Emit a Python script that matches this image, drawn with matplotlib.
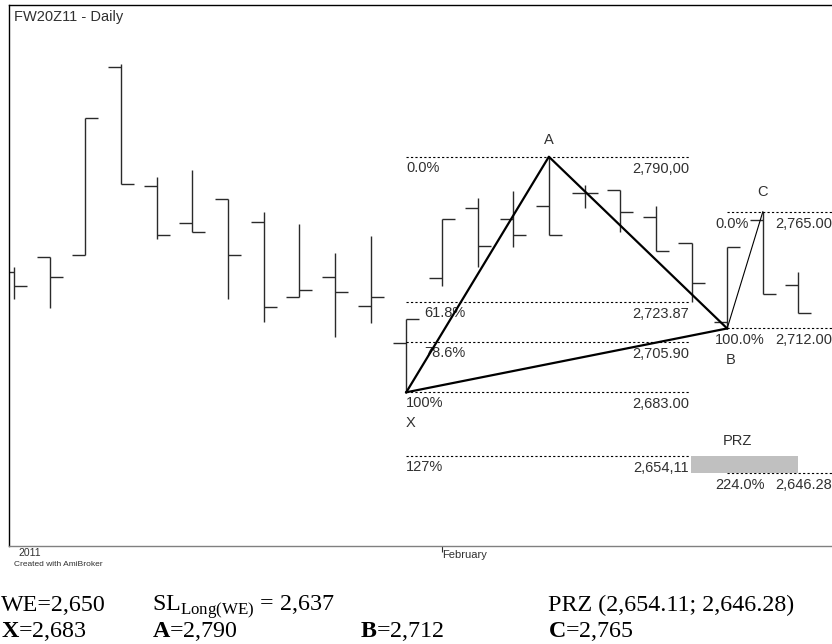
import matplotlib.pyplot as plt
from matplotlib.patches import Rectangle

plt.rcParams['font.family'] = ['Liberation Sans', 'DejaVu Sans']
plt.rcParams['mathtext.fontset'] = 'custom'
plt.rcParams['mathtext.rm'] = 'Liberation Serif'
plt.rcParams['mathtext.bf'] = 'Liberation Serif:bold'

# daily OHLC bars
opens = [2737.6, 2744.6, 2745.2, 2830.7, 2776.7, 2759.8, 2770.6, 2760.5, 2726.4, 2735.5, 2722.3,
         2705.2, 2734.8, 2766.9, 2761.6, 2767.4, 2773.7, 2774.7, 2762.8, 2750.7, 2715.0, 2761.3, 2731.7]
highs = [2740.0, 2744.6, 2807.8, 2832.2, 2781.0, 2784.1, 2770.9, 2765.1, 2759.4, 2746.1, 2754.0,
         2716.5, 2761.6, 2771.2, 2774.2, 2790.0, 2777.2, 2774.7, 2767.7, 2750.7, 2749.2, 2765.0, 2737.8]
lows = [2725.3, 2721.4, 2745.2, 2777.7, 2752.7, 2755.7, 2725.3, 2715.0, 2726.4, 2708.2, 2714.3,
        2683.0, 2731.3, 2740.0, 2748.9, 2754.3, 2766.6, 2756.0, 2747.3, 2724.1, 2712.0, 2727.6, 2718.8]
closes = [2731.3, 2735.5, 2807.8, 2777.7, 2754.3, 2755.7, 2745.2, 2721.6, 2729.6, 2728.4, 2726.4,
          2716.5, 2761.6, 2749.5, 2754.3, 2754.3, 2773.7, 2765.0, 2747.3, 2732.5, 2749.2, 2727.6, 2718.8]

# XABC pattern points
pt_names = ['X', 'A', 'B', 'C']
pt_bars = [11, 15, 20, 21]
pt_prices = [2683.0, 2790.0, 2712.0, 2765.0]

# retracement levels of XA
xa_pcts = ['0.0%', '61.8%', '78.6%', '100%', '127%']
xa_levels = [2790.00, 2723.87, 2705.90, 2683.00, 2654.11]
xa_texts = ['2,790,00', '2,723.87', '2,705.90', '2,683.00', '2,654,11']

# levels of BC
bc_pcts = ['0.0%', '100.0%', '224.0%']
bc_levels = [2765.00, 2712.00, 2646.28]
bc_texts = ['2,765.00', '2,712.00', '2,646.28']

prz_top, prz_bottom = 2654.11, 2646.28

W, H = 832, 644
fig = plt.figure(figsize=(W / 100, H / 100), dpi=100)
ax = fig.add_axes([9 / W, 1 - 546 / H, 1 - 9 / W, (546 - 5) / H])

bar_col = '#2a2a2a'
tick_w = 0.365
for i in range(len(opens)):
    ax.plot([i, i], [lows[i], highs[i]], color=bar_col, lw=1.0, solid_capstyle='butt')
    ax.plot([i - tick_w, i], [opens[i], opens[i]], color=bar_col, lw=1.0, solid_capstyle='butt')
    ax.plot([i, i + tick_w], [closes[i], closes[i]], color=bar_col, lw=1.0, solid_capstyle='butt')

dash = dict(color='black', lw=0.8, dashes=(2, 2))
txt_col = '#303030'
fs = 10.5

# XA fib levels
pct_x = [11, 11.5, 11.5, 11, 11]
for k, lev in enumerate(xa_levels):
    ax.plot([11, 18.95], [lev, lev], **dash)
    ax.annotate(xa_pcts[k], (pct_x[k], lev), xytext=(0, -11), textcoords='offset pixels',
                ha='left', va='center', fontsize=fs, color=txt_col)
    ax.annotate(xa_texts[k], (18.93, lev), xytext=(0, -12), textcoords='offset pixels',
                ha='right', va='center', fontsize=fs, color=txt_col)

# BC levels
for k, lev in enumerate(bc_levels):
    ax.plot([20, 23.5], [lev, lev], **dash)
    ax.annotate(bc_pcts[k], (19.66, lev), xytext=(0, -12), textcoords='offset pixels',
                ha='left', va='center', fontsize=fs, color=txt_col)
    ax.annotate(bc_texts[k], (21.35, lev), xytext=(0, -12), textcoords='offset pixels',
                ha='left', va='center', fontsize=fs, color=txt_col)

# PRZ box
ax.add_patch(Rectangle((18.98, prz_bottom), 3.0, prz_top - prz_bottom,
                       facecolor='#c0c0c0', edgecolor='none', zorder=3))
ax.annotate('PRZ', (20.3, prz_top), xytext=(0, 15), textcoords='offset pixels',
            ha='center', va='center', fontsize=fs, color=txt_col)

# pattern legs
ax.plot(pt_bars[:3], pt_prices[:3], color='black', lw=1.6, zorder=4)
ax.plot([pt_bars[0], pt_bars[2]], [pt_prices[0], pt_prices[2]], color='black', lw=1.6, zorder=4)
ax.plot(pt_bars[2:], pt_prices[2:], color='black', lw=0.8, zorder=4)

pt_off = [(4, -31), (0, 17), (3, -32), (0, 20)]
for name, b, p, off in zip(pt_names, pt_bars, pt_prices, pt_off):
    ax.annotate(name, (b, p), xytext=off, textcoords='offset pixels',
                ha='center', va='center', fontsize=fs, color=txt_col)

ax.set_xlim(-0.14, 22.94)
ax.set_ylim(2613.2, 2858.9)
ax.set_yticks([])
ax.set_xticks([12])
ax.set_xticklabels(['February'], fontsize=8, color='#303030')
for lbl in ax.get_xticklabels():
    lbl.set_ha('left')
ax.tick_params(axis='x', length=4, width=0.8, pad=-1, color='#303030')
ax.spines['right'].set_visible(False)
ax.spines['bottom'].set_color('#808080')
for s in ['left', 'top', 'bottom']:
    ax.spines[s].set_linewidth(1.0)

ax.text(0.006, 0.978, 'FW20Z11 - Daily', transform=ax.transAxes, ha='left', va='center',
        fontsize=fs, color=txt_col)

fig.text(18 / W, 1 - 553 / H, '2011', ha='left', va='center', fontsize=7.5, color='#303030')
fig.text(14 / W, 1 - 565 / H, 'Created with AmiBroker', ha='left', va='center', fontsize=6,
         color='#303030')

# bottom summary text
bfs = 17.3
row1, row2 = 1 - 611 / H, 1 - 637 / H
serif = 'Liberation Serif'
fig.text(1 / W, row1, 'WE=2,650', family=serif, fontsize=bfs, va='baseline')
fig.text(152 / W, row1, r'SL$_{\mathrm{Long(WE)}}$ = 2,637', family=serif, fontsize=bfs, va='baseline')
fig.text(548 / W, row1, 'PRZ (2,654.11; 2,646.28)', family=serif, fontsize=bfs, va='baseline')
fig.text(1 / W, row2, r'$\mathbf{X}$=2,683', family=serif, fontsize=bfs, va='baseline')
fig.text(152 / W, row2, r'$\mathbf{A}$=2,790', family=serif, fontsize=bfs, va='baseline')
fig.text(360 / W, row2, r'$\mathbf{B}$=2,712', family=serif, fontsize=bfs, va='baseline')
fig.text(548 / W, row2, r'$\mathbf{C}$=2,765', family=serif, fontsize=bfs, va='baseline')

fig.savefig('out.png', dpi=100)
